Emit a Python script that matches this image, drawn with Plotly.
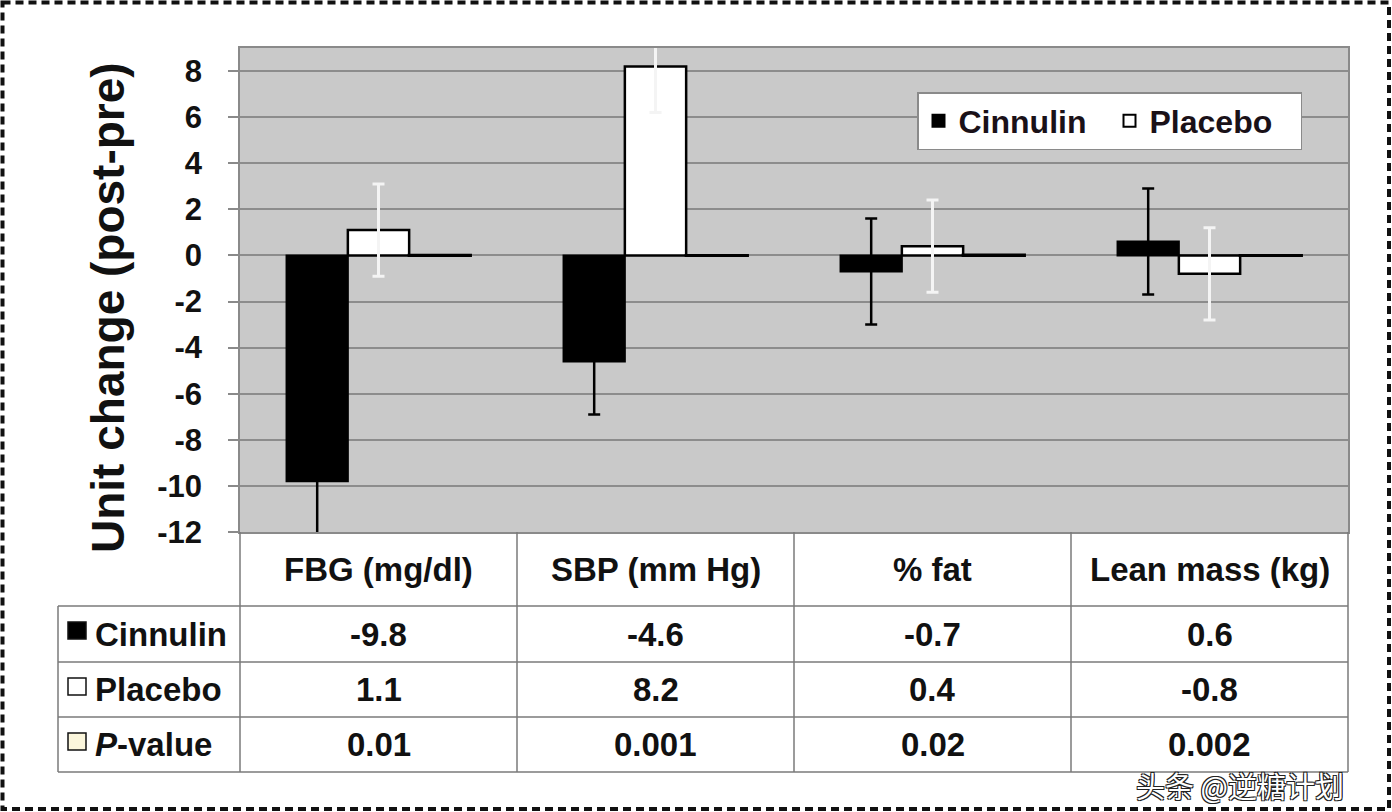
import plotly.graph_objects as go

# ---------------- data ----------------
categories = ["FBG (mg/dl)", "SBP (mm Hg)", "% fat", "Lean mass (kg)"]
cinnulin = [-9.8, -4.6, -0.7, 0.6]
placebo = [1.1, 8.2, 0.4, -0.8]
p_values = [0.01, 0.001, 0.02, 0.002]
cinnulin_err = [2.3, 2.3, 2.3, 2.3]
placebo_err = [2.0, 2.0, 2.0, 2.0]
y_ticks = [8, 6, 4, 2, 0, -2, -4, -6, -8, -10, -12]
row_labels = ["Cinnulin", "Placebo", "<i>P</i>-value"]

W, H = 1392, 812
L, R, T, B = 240, 44, 48, 280
PW, PH = W - L - R, H - T - B


def px(x):
    return (x - L) / PW


def py(y):
    return (H - B - y) / PH


FONT = "Liberation Sans, Arial, sans-serif"

fig = go.Figure()
fig.add_trace(go.Bar(
    x=categories, y=cinnulin, name="Cinnulin",
    marker=dict(color="black", line=dict(color="black", width=2)),
    error_y=dict(type="data", array=cinnulin_err, color="black", thickness=2.5, width=6),
))
fig.add_trace(go.Bar(
    x=categories, y=placebo, name="Placebo",
    marker=dict(color="white", line=dict(color="black", width=2.5)),
    error_y=dict(type="data", array=placebo_err, color="#f4f4f4", thickness=3, width=6),
))
fig.add_trace(go.Bar(
    x=categories, y=p_values, name="P-value", showlegend=False,
    marker=dict(color="#fff8dc", line=dict(color="black", width=3)),
))

fig.update_layout(
    width=W, height=H,
    margin=dict(l=L, r=R, t=T, b=B, autoexpand=False),
    paper_bgcolor="white", plot_bgcolor="#c9c9c9",
    barmode="group", bargap=0.336, bargroupgap=0,
    font=dict(family=FONT, color="#111"),
    showlegend=True,
    legend=dict(
        orientation="h", x=px(917), y=py(92), xanchor="left", yanchor="top",
        bgcolor="white", bordercolor="#8a8a8a", borderwidth=1.5,
        font=dict(size=32, family=FONT, color="#1a1118", weight="bold"),
        itemsizing="constant", entrywidth=146, traceorder="normal",
    ),
)

fig.update_xaxes(
    showticklabels=False, showgrid=False, zeroline=False,
    showline=True, linecolor="#8a8a8a", linewidth=1.5, mirror=True,
    ticks="",
)
fig.update_yaxes(
    range=[-12, 9], tickvals=y_ticks, ticktext=[str(v) for v in y_ticks],
    showgrid=True, gridcolor="#8c8c8c", gridwidth=1.5, zeroline=False,
    showline=True, linecolor="#8a8a8a", linewidth=1.5, mirror=True,
    ticks="outside", ticklen=10, tickcolor="#8a8a8a", tickwidth=1.5,
    ticklabelstandoff=20,
    tickfont=dict(size=31, family=FONT, color="#111", weight="bold"),
    automargin=False,
)

shapes = []
line_col = "#7a7a7a"
# table grid
row_ys = [606, 662, 717, 772]
for ry in row_ys:
    shapes.append(dict(type="line", xref="paper", yref="paper",
                       x0=px(58), x1=px(L + PW), y0=py(ry), y1=py(ry),
                       line=dict(color=line_col, width=1.5)))
for i in range(len(categories) + 1):
    xx = L + PW * i / len(categories)
    shapes.append(dict(type="line", xref="paper", yref="paper",
                       x0=px(xx), x1=px(xx), y0=py(H - B), y1=py(772),
                       line=dict(color=line_col, width=1.5)))
shapes.append(dict(type="line", xref="paper", yref="paper",
                   x0=px(58), x1=px(58), y0=py(606), y1=py(772),
                   line=dict(color=line_col, width=1.5)))
# row-label swatches
sw_fill = ["black", "white", "#fbf6dc"]
sw_y = [622, 678, 733]
for f, sy in zip(sw_fill, sw_y):
    shapes.append(dict(type="rect", xref="paper", yref="paper",
                       x0=px(68), x1=px(86), y0=py(sy), y1=py(sy + 17),
                       fillcolor=f, line=dict(color="#111", width=1.5)))
# dashed outer border
shapes.append(dict(type="rect", xref="paper", yref="paper",
                   x0=px(2.5), x1=px(W - 3), y0=py(2.5), y1=py(H - 3),
                   line=dict(color="#111", width=4, dash="8px,5px")))
fig.update_layout(shapes=shapes)

ann = []
tfont = dict(size=33, family=FONT, color="#111", weight="bold")
header_y = (H - B + 606) / 2
row_centers = [(606 + 662) / 2, (662 + 717) / 2, (717 + 772) / 2]
for i, c in enumerate(categories):
    ann.append(dict(x=c, xref="x", y=py(header_y), yref="paper", text=c,
                    showarrow=False, font=tfont, xanchor="center", yanchor="middle"))
    for vals, rc in zip([cinnulin, placebo, p_values], row_centers):
        ann.append(dict(x=c, xref="x", y=py(rc), yref="paper", text=f"{vals[i]:g}",
                        showarrow=False, font=tfont, xanchor="center", yanchor="middle"))
for lab, rc in zip(row_labels, row_centers):
    ann.append(dict(x=px(93), xref="paper", y=py(rc), yref="paper", text=lab,
                    showarrow=False, font=tfont, xanchor="left", yanchor="middle"))
# y-axis title
ann.append(dict(x=px(108), xref="paper", y=py(308), yref="paper",
                text="Unit change (post-pre)", textangle=-90, showarrow=False,
                xanchor="center", yanchor="middle",
                font=dict(size=46, family=FONT, color="#111", weight="bold")))
# watermark
ann.append(dict(x=px(1240), xref="paper", y=py(785), yref="paper", text="头条 @逆糖计划",
                showarrow=False, xanchor="center", yanchor="middle",
                font=dict(size=29, family="Noto Sans CJK SC", color="white",
                          shadow="1px 1px 0 #222, -1px -1px 0 #222, 1px -1px 0 #222, -1px 1px 0 #222")))
fig.update_layout(annotations=ann)

fig.write_html("out.html", config={"displayModeBar": False},
               post_script="document.body.style.margin='0';")
